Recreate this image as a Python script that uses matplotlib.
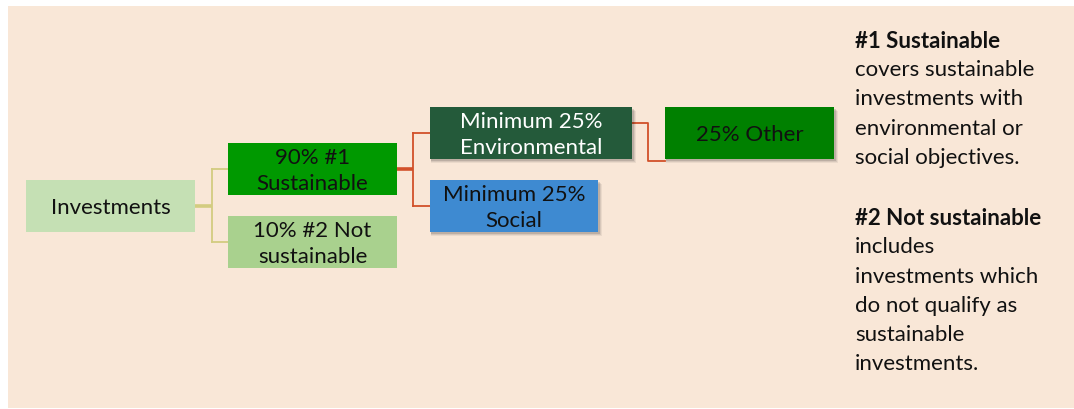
import matplotlib
matplotlib.use("Agg")
import matplotlib.pyplot as plt
from matplotlib.patches import Rectangle

# data
node_labels = [
    "Investments",
    "90% #1\nSustainable",
    "10% #2 Not\nsustainable",
    "Minimum 25%\nEnvironmental",
    "Minimum 25%\nSocial",
    "25% Other",
]
node_colors = ["#C5E0B4", "#009900", "#A9D18E", "#245A3A", "#3E8AD1", "#008000"]
node_text_colors = ["#111111", "#111111", "#111111", "#FFFFFF", "#111111", "#111111"]
node_shadow = [False, False, False, True, True, True]

note_blocks = [
    ("#1 Sustainable", ["covers sustainable", "investments with",
                        "environmental or", "social objectives."]),
    ("#2 Not sustainable", ["includes", "investments which",
                            "do not qualify as", "sustainable", "investments."]),
]

# layout in pixel coordinates (x0, y0, x1, y1)
boxes = [
    (26, 181, 195, 233),
    (228, 144, 397, 196),
    (228, 217, 397, 269),
    (430, 108, 632, 160),
    (430, 181, 598, 233),
    (665, 108, 834, 160),
]

plt.rcParams["font.family"] = ["Lato", "DejaVu Sans"]
W, H = 1074, 410
fig = plt.figure(figsize=(W / 100, H / 100), dpi=100)
ax = fig.add_axes([0, 0, 1, 1])
ax.set_xlim(0, W)
ax.set_ylim(H, 0)
ax.axis("off")
fig.patch.set_facecolor("white")

ax.add_patch(Rectangle((8, 7), W - 8, H - 8, facecolor="#F9E7D7", edgecolor="none"))

# connectors
def bracket(ax, x_from, y_from, x_mid, ys, x_to, color, lw, stem_lw):
    ax.plot([x_from, x_mid], [y_from, y_from], color=color, lw=stem_lw,
            solid_capstyle="butt", zorder=1)
    ax.plot([x_mid, x_mid], [min(ys), max(ys)], color=color, lw=lw, zorder=1)
    for y in ys:
        ax.plot([x_mid, x_to], [y, y], color=color, lw=lw, zorder=1)

bracket(ax, 195, 207, 212, [170, 243], 228, "#D3CC80", 1.3, 2.6)
bracket(ax, 397, 170, 413, [134, 207], 430, "#D2512A", 1.3, 2.6)
ax.plot([632, 648, 648, 665], [124, 124, 162, 162], color="#D2512A", lw=1.3, zorder=1)

FS = 16
for (x0, y0, x1, y1), lab, fc, tc, sh in zip(boxes, node_labels, node_colors,
                                             node_text_colors, node_shadow):
    if sh:
        for k, a in [(4, 0.06), (3, 0.08), (2, 0.12)]:
            ax.add_patch(Rectangle((x0 + 1, y0 + k), x1 - x0 + k - 1, y1 - y0,
                                   facecolor="#000000", alpha=a, edgecolor="none", zorder=2))
    ax.add_patch(Rectangle((x0, y0), x1 - x0, y1 - y0, facecolor=fc,
                           edgecolor="none", zorder=3))
    ax.text((x0 + x1) / 2, (y0 + y1) / 2 + 1, lab, ha="center", va="center",
            fontsize=FS, color=tc, linespacing=1.35, zorder=4)

# side notes
x_note = 855
y = 41
line_h = 29.2
for head, lines in note_blocks:
    ax.text(x_note, y, head, ha="left", va="center", fontsize=FS,
            fontweight="bold", color="#111111")
    y += line_h
    for ln in lines:
        ax.text(x_note, y, ln, ha="left", va="center", fontsize=FS, color="#111111")
        y += line_h
    y += line_h + 2

fig.savefig("out.png", dpi=100, facecolor="white")
